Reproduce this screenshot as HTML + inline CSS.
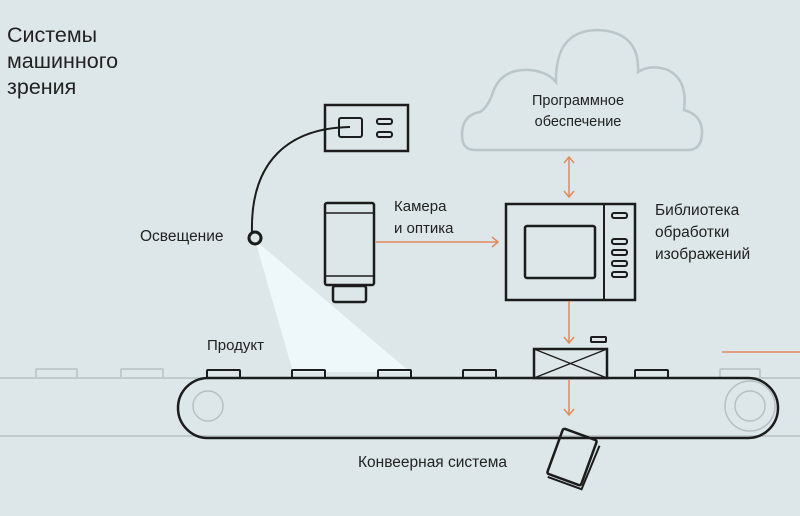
<!DOCTYPE html>
<html><head><meta charset="utf-8"><style>
body{margin:0;background:#dde6e9;}
svg{display:block;}
text{font-family:"Liberation Sans",sans-serif;fill:#222;}
</style></head><body>
<svg width="800" height="516" viewBox="0 0 800 516">
<rect width="800" height="516" fill="#dde6e9"/>
<g stroke="#bfcacd" stroke-width="2" fill="none">
<line x1="0" y1="378" x2="800" y2="378"/>
<line x1="0" y1="436" x2="800" y2="436"/>
<rect x="36" y="369" width="41" height="9" rx="1"/>
<rect x="121" y="369" width="42" height="9" rx="1"/>
<rect x="720" y="369" width="40" height="9" rx="1"/>
</g>
<path d="M475 150 Q462 150 462 135 Q462 115 480 112 Q487 108 492 95 Q500 68 530 70 Q548 72 556 82 Q555 30 598 30 Q640 32 638 72 Q650 64 668 70 Q688 80 684 110 Q702 115 702 132 Q702 150 688 150 Z" fill="none" stroke="#b9c6ca" stroke-width="2.5"/>
<text x="578" y="105" font-size="14.5" text-anchor="middle">Программное</text>
<text x="578" y="126" font-size="14.5" text-anchor="middle">обеспечение</text>
<polygon points="255,240 293,372 410,372" fill="#eef7fa"/>
<text x="7" y="42" font-size="21.5">Системы</text>
<text x="7" y="68" font-size="21.5">машинного</text>
<text x="7" y="94" font-size="21.5">зрения</text>
<g stroke="#1c1c1c" fill="none" stroke-width="2.5">
<rect x="325" y="105" width="83" height="46"/>
<rect x="339" y="118" width="23" height="19" rx="2" stroke-width="2"/>
<rect x="377" y="119" width="15" height="5" rx="2" stroke-width="2"/>
<rect x="377" y="132" width="15" height="5" rx="2" stroke-width="2"/>
<path d="M350 127 C290 128 250 160 252 233" stroke-width="2"/>
<circle cx="255" cy="238" r="6" stroke-width="3"/>
<rect x="325" y="203" width="49" height="82" rx="2"/>
<line x1="325" y1="213" x2="374" y2="213" stroke-width="1.5"/>
<line x1="325" y1="276" x2="374" y2="276" stroke-width="1.5"/>
<rect x="333" y="286" width="33" height="16" rx="2"/>
<rect x="506" y="204" width="129" height="96"/>
<line x1="604" y1="204" x2="604" y2="300" stroke-width="2"/>
<rect x="525" y="226" width="70" height="52" rx="2"/>
<rect x="612" y="213" width="15" height="5" rx="2" stroke-width="2"/>
<rect x="612" y="239" width="15" height="5" rx="2" stroke-width="2"/>
<rect x="612" y="250" width="15" height="5" rx="2" stroke-width="2"/>
<rect x="612" y="261" width="15" height="5" rx="2" stroke-width="2"/>
<rect x="612" y="272" width="15" height="5" rx="2" stroke-width="2"/>
<rect x="178" y="378" width="600" height="60" rx="30"/>
<rect x="207" y="370" width="33" height="8" rx="1" stroke-width="2"/>
<rect x="292" y="370" width="33" height="8" rx="1" stroke-width="2"/>
<rect x="378" y="370" width="33" height="8" rx="1" stroke-width="2"/>
<rect x="463" y="370" width="33" height="8" rx="1" stroke-width="2"/>
<rect x="635" y="370" width="33" height="8" rx="1" stroke-width="2"/>
<rect x="534" y="349" width="73" height="29"/>
<path d="M534 349 L607 378 M607 349 L534 378" stroke-width="1.3"/>
<rect x="591" y="337" width="15" height="5" rx="1" stroke-width="2"/>
<g transform="translate(572,457) rotate(20)">
<rect x="-18" y="-24" width="36" height="48" rx="2" stroke-width="2.5"/>
<path d="M-16 27 L20 27 L22 -20" stroke-width="2"/>
</g>
</g>
<g stroke="#b4c0c4" fill="none" stroke-width="1.5">
<circle cx="208" cy="406" r="15"/>
<circle cx="750" cy="406" r="15"/>
<circle cx="750" cy="406" r="25"/>
</g>
<g stroke="#e08a5c" stroke-width="1.5" fill="none">
<line x1="376" y1="242" x2="498" y2="242"/>
<path d="M492 237 L498 242 L492 247"/>
<line x1="569" y1="158" x2="569" y2="196"/>
<path d="M564 163 L569 157 L574 163 M564 191 L569 197 L574 191"/>
<line x1="569" y1="301" x2="569" y2="342"/>
<path d="M564 337 L569 343 L574 337"/>
<line x1="569" y1="380" x2="569" y2="414"/>
<path d="M564 409 L569 415 L574 409"/>
<line x1="722" y1="352" x2="800" y2="352"/>
</g>
<text x="140" y="241" font-size="15.5">Освещение</text>
<text x="394" y="211" font-size="15">Камера</text>
<text x="394" y="233" font-size="15">и оптика</text>
<text x="655" y="215" font-size="15.5">Библиотека</text>
<text x="655" y="237" font-size="15.5">обработки</text>
<text x="655" y="259" font-size="15.5">изображений</text>
<text x="207" y="350" font-size="15">Продукт</text>
<text x="358" y="467" font-size="15.5">Конвеерная система</text>
</svg>
</body></html>
